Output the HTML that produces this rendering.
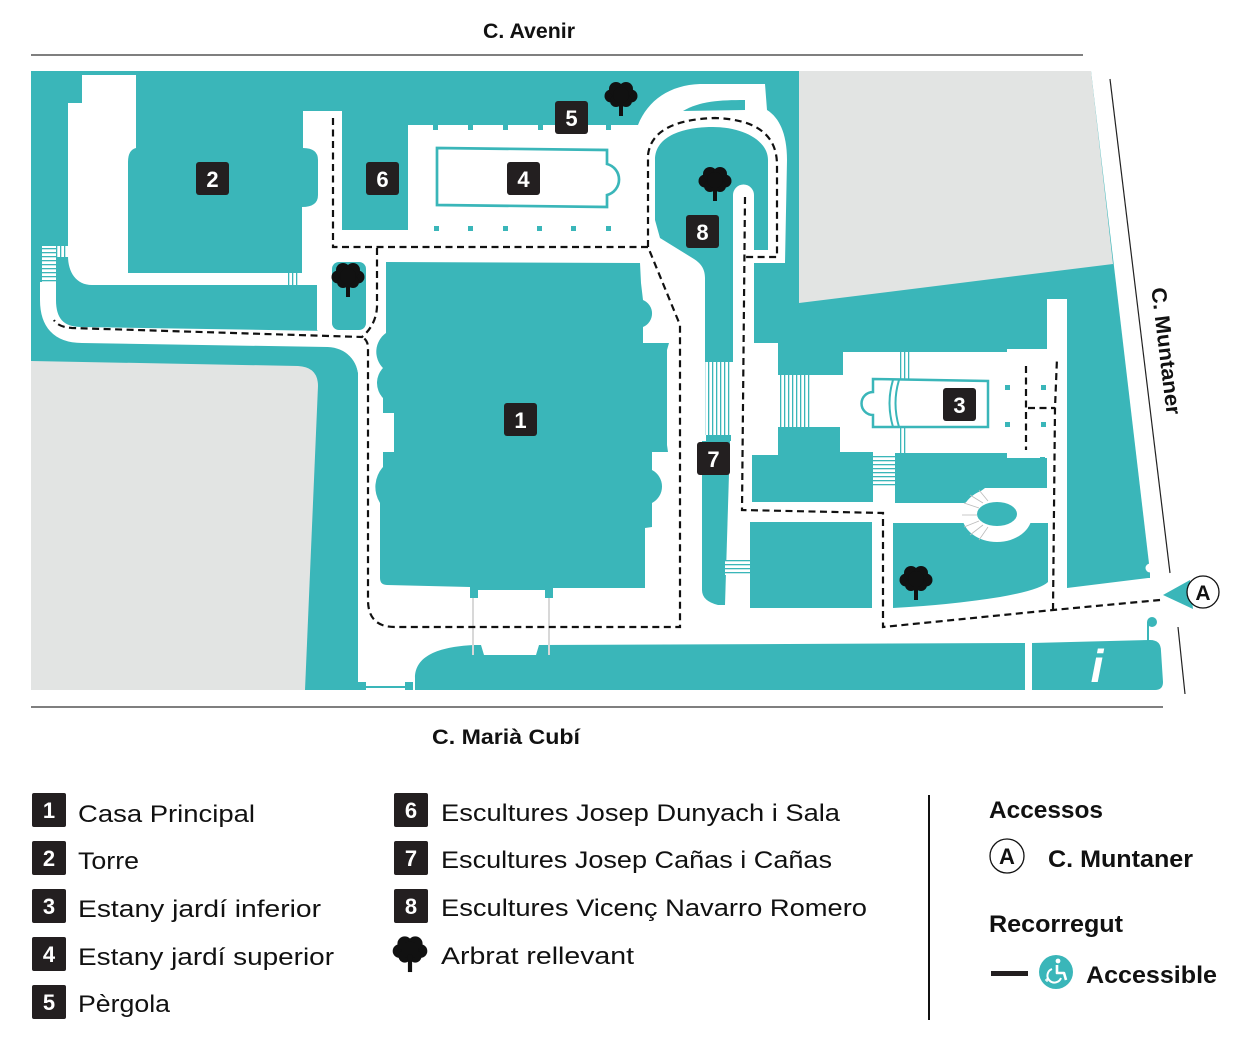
<!DOCTYPE html>
<html><head><meta charset="utf-8"><style>
html,body{margin:0;padding:0;background:#fff;}
svg{display:block;}
text{font-family:"Liberation Sans",sans-serif;}
</style></head><body>
<svg width="1250" height="1042" viewBox="0 0 1250 1042" xmlns="http://www.w3.org/2000/svg">
<defs>
<pattern id="vs" width="4" height="4" patternUnits="userSpaceOnUse"><rect width="4" height="4" fill="#fff"/><rect x="0" width="1.3" height="4" fill="#3ab6b9"/></pattern>
<pattern id="hs" width="4" height="4" patternUnits="userSpaceOnUse"><rect width="4" height="4" fill="#fff"/><rect y="0" width="4" height="1.3" fill="#3ab6b9"/></pattern>
<g id="tree"><circle cx="-10" cy="1" r="6.5"/><circle cx="10" cy="1" r="6.5"/><circle cx="-5" cy="-6" r="7"/><circle cx="5" cy="-6" r="7"/><circle cx="-5" cy="6" r="6"/><circle cx="5" cy="6" r="6"/><circle cx="0" cy="0" r="8"/><rect x="-2" y="4" width="4" height="17"/></g>
</defs>

<!-- base teal -->
<path d="M31,71 L1091,71 L1150,572 L1150,690 L31,690 Z" fill="#3ab6b9"/>
<!-- gray areas -->
<path d="M799,71 L1091,71 L1113,264 L799,303 Z" fill="#e2e4e3"/>
<path d="M31,361 L298,366 Q318,367 318,386 L305,690 L31,690 Z" fill="#e2e4e3"/>

<!-- white tower L -->
<path d="M82,75 L136,75 L136,148 Q128,150 128,162 L128,273 L302,273 L302,285 L92,285 C76,285 68,272 68,256 L68,103 L82,103 Z" fill="#fff"/>
<!-- path C -->
<path d="M48,282 L48,300 C48,322 58,335 82,335 L328,339 C350,340 366,355 367,380" fill="none" stroke="#fff" stroke-width="16"/>
<rect x="42" y="246" width="14" height="37" fill="url(#hs)"/>
<rect x="56" y="246" width="12" height="11" fill="url(#vs)"/>
<rect x="287" y="273" width="11" height="12" fill="url(#vs)"/>

<!-- central white -->
<path d="M303,111 L342,111 L342,230 L408,230 L408,125 L638,125 C648,100 670,85 700,84 L765,84 L767,110 C780,118 787,135 787,160 L785,263 L754,263 L754,615 L358,620 L358,373 C355,355 345,345 330,343 L317,330 L317,285 L302,285 L302,207 Q318,207 318,195 L318,160 Q318,148 303,148 Z" fill="#fff"/>
<!-- right region white -->
<path d="M753,343 L778,343 L778,375 L843,375 L843,352 L1007,352 L1007,349 L1047,349 L1047,299 L1067,299 L1067,600 L753,610 Z" fill="#fff"/>
<!-- bottom band -->
<path d="M358,588 L1067,588 L1148,578 L1175,578 L1175,646 L358,648 Z" fill="#fff"/>
<rect x="358" y="640" width="190" height="50" fill="#fff"/>
<rect x="1025" y="638" width="7" height="52" fill="#fff"/>
<circle cx="1150" cy="568" r="4.5" fill="#fff"/>

<!-- teal islands -->
<rect x="332" y="262" width="34" height="68" rx="7" fill="#3ab6b9"/>
<path d="M386,262 L640,263 L641,283 L643,300 A14.6,14.6 0 0 1 643,327 L643,343 L669,343 L667,350 L667,445 L668,452 L652,452 L652,470 A18.6,18.6 0 0 1 652,503 L652,527 L645,528 L645,588 L553,588 L553,598 L545,598 L545,590 L478,590 L478,598 L470,598 L470,587 L387,585 Q380,585 380,578 L380,503 A30,30 0 0 1 383,467 L383,452 L394,452 L394,413 L383,413 L383,398 A21.75,21.75 0 0 1 383,368 A23,23 0 0 1 386,333 Z" fill="#3ab6b9"/>
<!-- #8 teal -->
<path d="M660,238 L655,220 L655,160 C655,135 685,127 713,127 C742,127 768,140 768,160 L768,250 L754,250 L754,195 A10.5,10.5 0 0 0 733,195 L733,362 L705,362 L705,278 C705,268 700,263 694,259 Z" fill="#3ab6b9"/>
<path d="M683,111 C700,101 720,100 745,100 L745,110 Z" fill="#3ab6b9"/>
<!-- 7 strip -->
<rect x="705" y="362" width="27" height="73" fill="url(#vs)"/>
<rect x="706" y="435" width="25" height="6" fill="#3ab6b9"/>
<path d="M702,441 L730,441 L725,605 L718,605 Q702,601 702,590 Z" fill="#3ab6b9"/>
<rect x="725" y="560" width="25" height="15" fill="url(#hs)"/>
<!-- right blocks -->
<rect x="778" y="375" width="32" height="52" fill="url(#vs)"/>
<rect x="898" y="352" width="12" height="28" fill="url(#vs)"/>
<rect x="898" y="427" width="10" height="26" fill="url(#vs)"/>
<path d="M778,427 L840,427 L840,452 L873,452 L873,502 L752,502 L752,455 L778,455 Z" fill="#3ab6b9"/>
<rect x="873" y="456" width="22" height="32" fill="url(#hs)"/>
<path d="M895,453 L1007,453 L1007,458 L1047,458 L1047,488 L985,488 L965,503 L895,503 Z" fill="#3ab6b9"/>
<rect x="750" y="522" width="122" height="86" fill="#3ab6b9"/>
<path d="M893,523 L1048,523 L1048,582 Q1040,590 1000,597 Q950,605 893,608 Z" fill="#3ab6b9"/>
<ellipse cx="997" cy="515" rx="35" ry="27" fill="#fff"/>
<ellipse cx="997" cy="514" rx="20" ry="12" fill="#3ab6b9"/>
<g stroke="#bbb" stroke-width="0.8">
<line x1="962" y1="515" x2="977" y2="515"/><line x1="964" y1="503" x2="979" y2="508"/><line x1="964" y1="527" x2="979" y2="521"/><line x1="970" y1="495" x2="983" y2="503"/><line x1="970" y1="535" x2="983" y2="525"/><line x1="979" y1="490" x2="988" y2="501"/><line x1="979" y1="540" x2="988" y2="527"/>
</g>
<!-- bottom teal and info -->
<path d="M415,690 L415,678 C415,656 438,647 473,645 L481,645 L484,655 L536,655 L539,645 L1025,643 L1025,690 Z" fill="#3ab6b9"/>
<path d="M1032,643 L1150,640 Q1161,640 1161,651 L1163,682 Q1163,690 1155,690 L1032,690 Z" fill="#3ab6b9"/>
<circle cx="1152" cy="622" r="5" fill="#3ab6b9"/><rect x="1147" y="622" width="2" height="20" fill="#3ab6b9"/>
<rect x="358" y="682" width="8" height="8" fill="#3ab6b9"/><rect x="405" y="682" width="8" height="8" fill="#3ab6b9"/><rect x="366" y="686" width="39" height="2" fill="#3ab6b9"/>
<text x="1097" y="682" font-family="Liberation Serif,serif" font-style="italic" font-weight="bold" font-size="46" fill="#fff" text-anchor="middle">i</text>

<!-- pond 4 and pergola posts -->
<path d="M437,148 L607,150 L607,164 A16,16 0 0 1 607,195 L607,207 L437,205 Z" fill="#fff" stroke="#3ab6b9" stroke-width="2.7"/>
<g fill="#3ab6b9">
<rect x="433" y="124" width="5" height="6"/><rect x="468" y="124" width="5" height="6"/><rect x="503" y="124" width="5" height="6"/><rect x="538" y="124" width="5" height="6"/><rect x="606" y="124" width="5" height="6"/>
<rect x="434" y="226" width="5" height="5"/><rect x="468" y="226" width="5" height="5"/><rect x="503" y="226" width="5" height="5"/><rect x="537" y="226" width="5" height="5"/><rect x="571" y="226" width="5" height="5"/><rect x="606" y="226" width="5" height="5"/>
<rect x="1005" y="385" width="5" height="5"/><rect x="1041" y="385" width="5" height="5"/><rect x="1005" y="422" width="5" height="5"/><rect x="1041" y="422" width="5" height="5"/><rect x="1040" y="457" width="5" height="5"/>
</g>
<!-- pond 3 -->
<path d="M873,379 L988,381 L988,427 L873,427 L873,415 A11,11 0 0 1 873,392 Z" fill="#fff" stroke="#3ab6b9" stroke-width="2.5"/>
<path d="M893,380 Q886,403 893,427 M899,380 Q892,403 899,427" fill="none" stroke="#3ab6b9" stroke-width="2"/>
<!-- porch lines -->
<line x1="473" y1="598" x2="473" y2="655" stroke="#d8d8d8" stroke-width="2"/>
<line x1="549" y1="598" x2="549" y2="655" stroke="#d8d8d8" stroke-width="2"/>

<!-- dashed route -->
<g fill="none" stroke="#111" stroke-width="2.2" stroke-dasharray="7 4.5">
<path d="M333,118 L333,247 L648,247 L680,325 L680,627 L395,627 Q368,627 368,600 L368,348 Q368,340 362,337"/>
<path d="M377,248 L377,307 Q376,325 362,337 L72,328 Q58,327 54,320"/>
<path d="M648,247 L648,155 Q652,120 715,118 Q777,120 777,165 L777,257 L743,257"/>
<path d="M745,197 L742,510 L883,513 L883,627 L1053,610 L1160,600"/>
<path d="M1053,610 L1055,408 L1057,358"/>
<path d="M1028,408 L1055,408"/>
<path d="M1026,366 L1026,450"/>
</g>

<!-- trees -->
<g fill="#111">
<use href="#tree" x="621" y="95"/>
<use href="#tree" x="715" y="180"/>
<use href="#tree" x="348" y="276"/>
<use href="#tree" x="916" y="579"/>
</g>

<!-- labels -->
<g font-weight="bold" font-size="22" fill="#fff" text-anchor="middle">
<rect x="504" y="403" width="33" height="33" rx="3" fill="#231f20"/><text x="520.5" y="428">1</text>
<rect x="196" y="162" width="33" height="33" rx="3" fill="#231f20"/><text x="212.5" y="187">2</text>
<rect x="943" y="388" width="33" height="33" rx="3" fill="#231f20"/><text x="959.5" y="413">3</text>
<rect x="507" y="162" width="33" height="33" rx="3" fill="#231f20"/><text x="523.5" y="187">4</text>
<rect x="555" y="101" width="33" height="33" rx="3" fill="#231f20"/><text x="571.5" y="126">5</text>
<rect x="366" y="162" width="33" height="33" rx="3" fill="#231f20"/><text x="382.5" y="187">6</text>
<rect x="697" y="442" width="33" height="33" rx="3" fill="#231f20"/><text x="713.5" y="467">7</text>
<rect x="686" y="215" width="33" height="33" rx="3" fill="#231f20"/><text x="702.5" y="240">8</text>
</g>

<!-- access marker -->
<path d="M1163,595 L1190,580 L1193,609 Z" fill="#3ab6b9"/>
<circle cx="1203" cy="592" r="16" fill="#fff" stroke="#111" stroke-width="1.3"/>
<text x="1203" y="600" font-weight="bold" font-size="21" text-anchor="middle" fill="#111">A</text>

<!-- roads -->
<line x1="31" y1="55" x2="1083" y2="55" stroke="#333" stroke-width="1.3"/>
<line x1="31" y1="707" x2="1163" y2="707" stroke="#333" stroke-width="1.3"/>
<line x1="1110" y1="79" x2="1170" y2="573" stroke="#222" stroke-width="1.2"/>
<line x1="1178" y1="627" x2="1185" y2="694" stroke="#222" stroke-width="1.2"/>
<text x="529" y="38" font-weight="bold" font-size="21" text-anchor="middle" fill="#111" textLength="92" lengthAdjust="spacingAndGlyphs">C. Avenir</text>
<text x="506" y="744" font-weight="bold" font-size="21" text-anchor="middle" fill="#111" textLength="148" lengthAdjust="spacingAndGlyphs">C. Marià Cubí</text>
<text x="0" y="7" transform="translate(1166,351) rotate(83)" font-weight="bold" font-size="21" text-anchor="middle" fill="#111" textLength="128" lengthAdjust="spacingAndGlyphs">C. Muntaner</text>

<!-- legend left -->
<g font-weight="bold" font-size="22" fill="#fff" text-anchor="middle">
<rect x="32" y="793" width="34" height="34" rx="2" fill="#231f20"/><text x="49" y="818">1</text>
<rect x="32" y="841" width="34" height="34" rx="2" fill="#231f20"/><text x="49" y="866">2</text>
<rect x="32" y="889" width="34" height="34" rx="2" fill="#231f20"/><text x="49" y="914">3</text>
<rect x="32" y="937" width="34" height="34" rx="2" fill="#231f20"/><text x="49" y="962">4</text>
<rect x="32" y="985" width="34" height="34" rx="2" fill="#231f20"/><text x="49" y="1010">5</text>
<rect x="394" y="793" width="34" height="34" rx="2" fill="#231f20"/><text x="411" y="818">6</text>
<rect x="394" y="841" width="34" height="34" rx="2" fill="#231f20"/><text x="411" y="866">7</text>
<rect x="394" y="889" width="34" height="34" rx="2" fill="#231f20"/><text x="411" y="914">8</text>
</g>
<g font-size="24" fill="#111">
<text x="78" y="822" textLength="177" lengthAdjust="spacingAndGlyphs">Casa Principal</text>
<text x="78" y="869" textLength="61" lengthAdjust="spacingAndGlyphs">Torre</text>
<text x="78" y="917" textLength="243" lengthAdjust="spacingAndGlyphs">Estany jardí inferior</text>
<text x="78" y="965" textLength="256" lengthAdjust="spacingAndGlyphs">Estany jardí superior</text>
<text x="78" y="1012" textLength="92" lengthAdjust="spacingAndGlyphs">Pèrgola</text>
<text x="441" y="821" textLength="399" lengthAdjust="spacingAndGlyphs">Escultures Josep Dunyach i Sala</text>
<text x="441" y="868" textLength="391" lengthAdjust="spacingAndGlyphs">Escultures Josep Cañas i Cañas</text>
<text x="441" y="916" textLength="426" lengthAdjust="spacingAndGlyphs">Escultures Vicenç Navarro Romero</text>
<text x="441" y="964" textLength="193" lengthAdjust="spacingAndGlyphs">Arbrat rellevant</text>
</g>
<g fill="#111" transform="translate(410,950) scale(1.05)"><use href="#tree"/></g>

<line x1="929" y1="795" x2="929" y2="1020" stroke="#111" stroke-width="2"/>

<!-- legend right -->
<g font-weight="bold" font-size="24" fill="#111">
<text x="989" y="818" textLength="114" lengthAdjust="spacingAndGlyphs">Accessos</text>
<text x="1048" y="867" textLength="145" lengthAdjust="spacingAndGlyphs">C. Muntaner</text>
<text x="989" y="932" textLength="134" lengthAdjust="spacingAndGlyphs">Recorregut</text>
<text x="1086" y="983" textLength="131" lengthAdjust="spacingAndGlyphs">Accessible</text>
</g>
<circle cx="1007" cy="856" r="17" fill="none" stroke="#111" stroke-width="1.3"/>
<text x="1007" y="864" font-weight="bold" font-size="22" text-anchor="middle" fill="#111">A</text>
<rect x="991" y="971" width="37" height="5" fill="#231f20"/>
<circle cx="1056" cy="972" r="17" fill="#3ab6b9"/>
<circle cx="1058" cy="961" r="2.4" fill="#fff"/>
<path d="M1057,965 L1057,973 L1064,973 L1066,980" fill="none" stroke="#fff" stroke-width="2.6" stroke-linejoin="round"/>
<path d="M1052,969 A7,7 0 1 0 1061,978" fill="none" stroke="#fff" stroke-width="2"/>
<path d="M1045,980 L1049,980 M1047,978 L1047,982" stroke="#fff" stroke-width="1.2"/>
</svg>
</body></html>
